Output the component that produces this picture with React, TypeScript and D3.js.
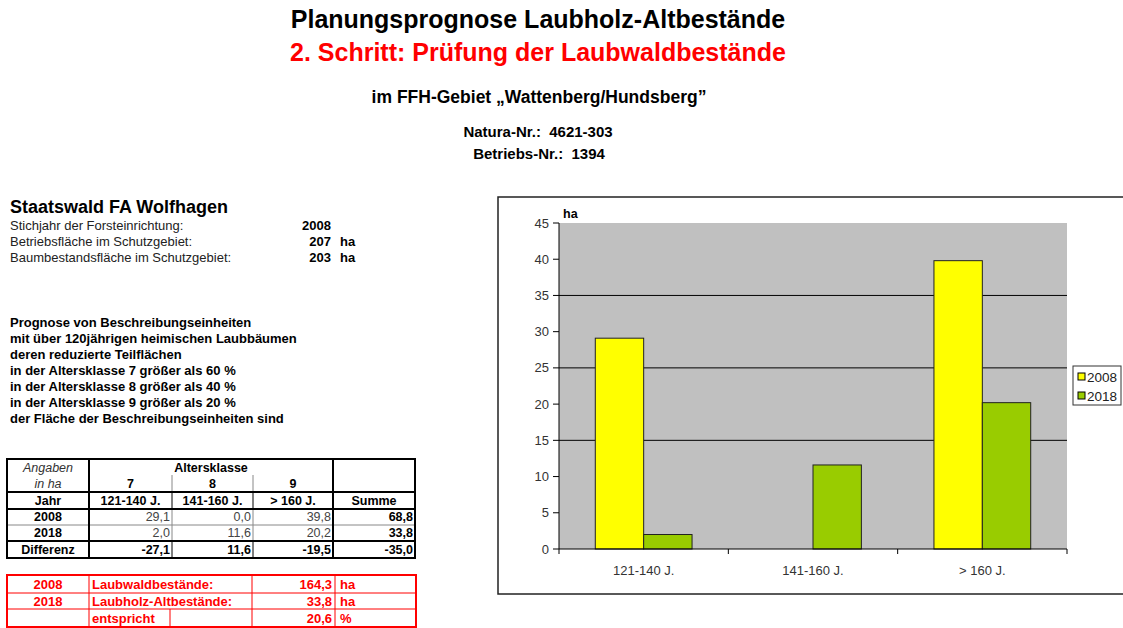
import React from "react";
import * as d3 from "d3";

// chart data
const categories = ["121-140 J.", "141-160 J.", "> 160 J."];
const seriesNames = ["2008", "2018"];
const values2008 = [29.1, 0.0, 39.8];
const values2018 = [2.0, 11.6, 20.2];
const yTicks = [0, 5, 10, 15, 20, 25, 30, 35, 40, 45];
const gridValues = [15, 25, 35];
const seriesColors = ["#FFFF00", "#99CC00"];

// table data
const altersklassen = ["7", "8", "9"];
const summe = ["68,8", "33,8", "-35,0"];
const row2008 = ["29,1", "0,0", "39,8"];
const row2018 = ["2,0", "11,6", "20,2"];
const rowDiff = ["-27,1", "11,6", "-19,5"];

const prognoseLines = [
  "Prognose von Beschreibungseinheiten",
  "mit über 120jährigen heimischen Laubbäumen",
  "deren reduzierte Teilflächen",
  "in der Altersklasse 7 größer als 60 %",
  "in der Altersklasse 8 größer als 40 %",
  "in der Altersklasse 9 größer als 20 %",
  "der Fläche der Beschreibungseinheiten sind",
];

const FONT = "'Liberation Sans', Arial, sans-serif";

const Chart = () => {
  const left = 559;
  const right = 1067;
  const top = 223;
  const bottom = 549;

  const y = d3.scaleLinear().domain([0, 45]).range([bottom, top]);
  const x0 = d3.scaleBand().domain(categories).range([left, right]).padding(0);
  const x1 = d3
    .scaleBand()
    .domain(seriesNames)
    .range([0, x0.bandwidth()])
    .paddingInner(0)
    .paddingOuter(0.75);

  const data = [values2008, values2018];

  return (
    <g fontFamily={FONT}>
      <rect x={498} y={197} width={640} height={397} fill="#fff" stroke="#222" strokeWidth={1.5} />
      <rect x={left} y={top} width={right - left} height={bottom - top} fill="#C0C0C0" />
      {gridValues.map((v) => (
        <line key={v} x1={left} x2={right} y1={y(v)} y2={y(v)} stroke="#000" strokeWidth={1} />
      ))}
      {categories.map((c, i) =>
        seriesNames.map((s, j) => {
          const v = data[j][i];
          if (v <= 0) return null;
          return (
            <rect
              key={c + s}
              x={(x0(c) as number) + (x1(s) as number)}
              y={y(v)}
              width={x1.bandwidth()}
              height={y(0) - y(v)}
              fill={seriesColors[j]}
              stroke="#222"
              strokeWidth={1}
            />
          );
        })
      )}
      {/* y axis */}
      <line x1={left} x2={left} y1={top} y2={bottom} stroke="#000" />
      {yTicks.map((t) => (
        <g key={t}>
          <line x1={left - 6} x2={left} y1={y(t)} y2={y(t)} stroke="#000" />
          <text x={549} y={y(t) + 4.5} textAnchor="end" fontSize={13} fill="#333">
            {t}
          </text>
        </g>
      ))}
      <text x={563} y={218} fontSize={12.5} fontWeight="bold" fill="#000">
        ha
      </text>
      {/* x axis */}
      <line x1={left} x2={right} y1={bottom} y2={bottom} stroke="#000" />
      {[...categories.map((c) => x0(c) as number), right].map((xv, i) => (
        <line key={i} x1={xv} x2={xv} y1={bottom} y2={bottom + 5} stroke="#000" />
      ))}
      {categories.map((c) => (
        <text
          key={c}
          x={(x0(c) as number) + x0.bandwidth() / 2}
          y={575}
          textAnchor="middle"
          fontSize={13}
          fill="#333"
        >
          {c}
        </text>
      ))}
      {/* legend */}
      <rect x={1073} y={366} width={48} height={39} fill="#fff" stroke="#333" />
      {seriesNames.map((s, j) => (
        <g key={s}>
          <rect x={1078} y={373 + j * 19} width={7} height={7} fill={seriesColors[j]} stroke="#000" />
          <text x={1087} y={381.5 + j * 19} fontSize={13.5} fill="#222">
            {s}
          </text>
        </g>
      ))}
    </g>
  );
};

const DataTable = () => {
  const cols = [7, 89, 172, 253, 333, 415];
  const rows = [459, 492, 509, 525, 541, 558];
  const fs = 12.5;
  const cellText = (txt, x, yv, anchor, bold, italic = false, color = "#000") => (
    <text
      x={x}
      y={yv}
      textAnchor={anchor}
      fontSize={fs}
      fontWeight={bold ? "bold" : "normal"}
      fontStyle={italic ? "italic" : "normal"}
      fill={color}
    >
      {txt}
    </text>
  );
  const mid = (a, b) => (cols[a] + cols[b]) / 2;
  return (
    <g fontFamily={FONT}>
      {/* thin inner lines */}
      {[2, 3].map((c) => (
        <g key={c}>
          <line x1={cols[c]} x2={cols[c]} y1={475} y2={rows[1]} stroke="#888" />
          <line x1={cols[c]} x2={cols[c]} y1={rows[1]} y2={rows[2]} stroke="#000" />
          <line x1={cols[c]} x2={cols[c]} y1={rows[2]} y2={rows[4]} stroke="#888" />
          <line x1={cols[c]} x2={cols[c]} y1={rows[4]} y2={rows[5]} stroke="#000" />
        </g>
      ))}
      <line x1={cols[0]} x2={cols[5]} y1={rows[3]} y2={rows[3]} stroke="#888" />
      {/* thick lines */}
      {[1, 2, 4].map((r) => (
        <line key={r} x1={cols[0]} x2={cols[5]} y1={rows[r]} y2={rows[r]} stroke="#000" strokeWidth={2} />
      ))}
      {[1, 4].map((c) => (
        <line key={c} x1={cols[c]} x2={cols[c]} y1={rows[0]} y2={rows[5]} stroke="#000" strokeWidth={2} />
      ))}
      <rect
        x={cols[0]}
        y={rows[0]}
        width={cols[5] - cols[0]}
        height={rows[5] - rows[0]}
        fill="none"
        stroke="#000"
        strokeWidth={2}
      />
      {cellText("Angaben", mid(0, 1), 472, "middle", false, true, "#333")}
      {cellText("in ha", mid(0, 1), 488, "middle", false, true, "#333")}
      {cellText("Altersklasse", mid(1, 4), 472, "middle", true)}
      {altersklassen.map((a, i) => (
        <React.Fragment key={a}>{cellText(a, mid(i + 1, i + 2), 488, "middle", true)}</React.Fragment>
      ))}
      {cellText("Jahr", mid(0, 1), 505, "middle", true)}
      {categories.map((c, i) => (
        <React.Fragment key={c}>{cellText(c, mid(i + 1, i + 2), 505, "middle", true)}</React.Fragment>
      ))}
      {cellText("Summe", mid(4, 5), 505, "middle", true)}
      {[
        { label: "2008", vals: row2008, y: 521, bold: false },
        { label: "2018", vals: row2018, y: 537, bold: false },
        { label: "Differenz", vals: rowDiff, y: 554, bold: true },
      ].map((r, ri) => (
        <g key={r.label}>
          {cellText(r.label, mid(0, 1), r.y, "middle", true)}
          {r.vals.map((v, i) => (
            <React.Fragment key={i}>
              {cellText(v, cols[i + 2] - 2, r.y, "end", r.bold, false, r.bold ? "#000" : "#444")}
            </React.Fragment>
          ))}
          {cellText(summe[ri], cols[5] - 2, r.y, "end", true)}
        </g>
      ))}
    </g>
  );
};

const RedTable = () => {
  const red = "#FF0000";
  const cols = [7, 89, 170, 252, 335, 416];
  const rows = [575, 593, 609, 627];
  const t = (txt, x, yv, anchor = "start") => (
    <text x={x} y={yv} textAnchor={anchor} fontSize={13} fontWeight="bold" fill={red}>
      {txt}
    </text>
  );
  return (
    <g fontFamily={FONT}>
      {[1, 2].map((r) => (
        <line key={r} x1={cols[0]} x2={cols[5]} y1={rows[r]} y2={rows[r]} stroke={red} />
      ))}
      {[1, 3, 4].map((c) => (
        <line key={c} x1={cols[c]} x2={cols[c]} y1={rows[0]} y2={rows[3]} stroke={red} />
      ))}
      <line x1={cols[2]} x2={cols[2]} y1={rows[2]} y2={rows[3]} stroke={red} />
      <rect
        x={cols[0]}
        y={rows[0]}
        width={cols[5] - cols[0]}
        height={rows[3] - rows[0]}
        fill="none"
        stroke={red}
        strokeWidth={2}
      />
      {t("2008", (cols[0] + cols[1]) / 2, 589, "middle")}
      {t("Laubwaldbestände:", 92, 589)}
      {t("164,3", cols[4] - 3, 589, "end")}
      {t("ha", 340, 589)}
      {t("2018", (cols[0] + cols[1]) / 2, 606, "middle")}
      {t("Laubholz-Altbestände:", 92, 606)}
      {t("33,8", cols[4] - 3, 606, "end")}
      {t("ha", 340, 606)}
      {t("entspricht", 92, 623)}
      {t("20,6", cols[4] - 3, 623, "end")}
      {t("%", 340, 623)}
    </g>
  );
};

export default function App() {
  return (
    <svg
      width={1123}
      height={628}
      style={{ position: "absolute", left: 0, top: 0, background: "#fff" }}
      fontFamily={FONT}
    >
      <rect width={1123} height={628} fill="#fff" />
      <text x={538} y={28} textAnchor="middle" fontSize={25} fontWeight="bold" fill="#000">
        Planungsprognose Laubholz-Altbestände
      </text>
      <text x={538} y={61} textAnchor="middle" fontSize={25} fontWeight="bold" fill="#FF0000">
        2. Schritt: Prüfung der Laubwaldbestände
      </text>
      <text x={539} y={103} textAnchor="middle" fontSize={17.5} fontWeight="bold" fill="#000">
        im FFH-Gebiet „Wattenberg/Hundsberg”
      </text>
      <text x={538} y={137} textAnchor="middle" fontSize={15} fontWeight="bold" fill="#000" xmlSpace="preserve">
        Natura-Nr.:  4621-303
      </text>
      <text x={539} y={159} textAnchor="middle" fontSize={15} fontWeight="bold" fill="#000" xmlSpace="preserve">
        Betriebs-Nr.:  1394
      </text>

      <text x={10} y={213} fontSize={18} fontWeight="bold" fill="#000">
        Staatswald FA Wolfhagen
      </text>
      {[
        ["Stichjahr der Forsteinrichtung:", "2008", ""],
        ["Betriebsfläche im Schutzgebiet:", "207", "ha"],
        ["Baumbestandsfläche im Schutzgebiet:", "203", "ha"],
      ].map((r, i) => (
        <g key={r[0]} fontSize={13}>
          <text x={10} y={230 + i * 16} fill="#222">
            {r[0]}
          </text>
          <text x={331} y={230 + i * 16} textAnchor="end" fontWeight="bold" fill="#000">
            {r[1]}
          </text>
          <text x={340} y={230 + i * 16} fontWeight="bold" fill="#000">
            {r[2]}
          </text>
        </g>
      ))}
      {prognoseLines.map((l, i) => (
        <text key={i} x={10} y={327 + i * 16} fontSize={13} fontWeight="bold" fill="#000">
          {l}
        </text>
      ))}

      <DataTable />
      <RedTable />
      <Chart />
    </svg>
  );
}
